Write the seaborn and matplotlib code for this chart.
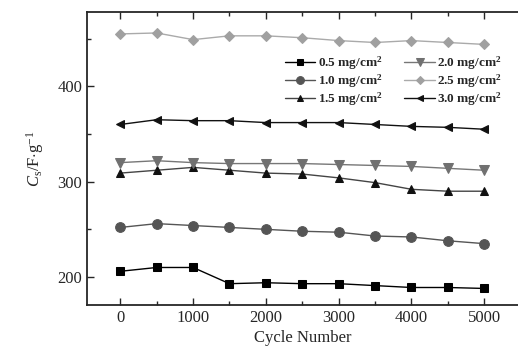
import matplotlib
matplotlib.use("Agg")
import matplotlib.pyplot as plt
import seaborn as sns
import pandas as pd
from matplotlib.ticker import MultipleLocator

cycles = [0, 500, 1000, 1500, 2000, 2500, 3000, 3500, 4000, 4500, 5000]
labels = ["0.5 mg/cm$^\\mathregular{2}$", "1.0 mg/cm$^\\mathregular{2}$", "1.5 mg/cm$^\\mathregular{2}$",
          "2.0 mg/cm$^\\mathregular{2}$", "2.5 mg/cm$^\\mathregular{2}$", "3.0 mg/cm$^\\mathregular{2}$"]
s05 = [206, 210, 210, 193, 194, 193, 193, 191, 189, 189, 188]
s10 = [252, 256, 254, 252, 250, 248, 247, 243, 242, 238, 235]
s15 = [309, 312, 315, 312, 309, 308, 304, 299, 292, 290, 290]
s20 = [320, 322, 320, 319, 319, 319, 318, 317, 316, 314, 312]
s25 = [455, 456, 449, 453, 453, 451, 448, 446, 448, 446, 444]
s30 = [360, 365, 364, 364, 362, 362, 362, 360, 358, 357, 355]

series = [s05, s10, s15, s20, s25, s30]
rows = []
for lab, vals in zip(labels, series):
    for c, v in zip(cycles, vals):
        rows.append({"cycle": c, "cap": v, "load": lab})
df = pd.DataFrame(rows)

sns.set_style("ticks")
plt.rcParams["font.family"] = ["Liberation Serif", "DejaVu Serif"]
plt.rcParams["mathtext.fontset"] = "custom"
plt.rcParams["mathtext.rm"] = "Liberation Serif"
plt.rcParams["mathtext.it"] = "Liberation Serif:italic"
plt.rcParams["mathtext.bf"] = "Liberation Serif:bold"

fig = plt.figure(figsize=(5.18, 3.58), dpi=100)
ax = fig.add_axes([0.168, 0.149, 0.832, 0.8175])

line_colors = ["#000000", "#555555", "#444444", "#777777", "#aaaaaa", "#111111"]
marker_colors = ["#000000", "#555555", "#111111", "#707070", "#a0a0a0", "#111111"]
markers = ["s", "o", "^", "v", "D", "<"]
sizes = [6, 7, 6, 7, 5, 6]

for lab, lc, mc, mk, ms in zip(labels, line_colors, marker_colors, markers, sizes):
    sub = df[df["load"] == lab]
    sns.lineplot(data=sub, x="cycle", y="cap", ax=ax, color=lc, lw=1.0,
                 marker=mk, markersize=ms, markerfacecolor=mc, markeredgecolor=mc,
                 label=lab)

ax.set_xlim(-457, 5463)
ax.set_ylim(171, 478)
ax.xaxis.set_major_locator(MultipleLocator(1000))
ax.xaxis.set_minor_locator(MultipleLocator(500))
ax.yaxis.set_major_locator(MultipleLocator(100))
ax.yaxis.set_minor_locator(MultipleLocator(50))
ax.tick_params(which="both", direction="in", top=True, right=False, labelsize=12, width=1.0)
ax.tick_params(which="major", length=5)
ax.tick_params(which="minor", length=3)
for sp in ["left", "bottom", "top"]:
    ax.spines[sp].set_linewidth(1.3)
ax.spines["right"].set_visible(False)

ax.set_xlabel("Cycle Number", fontsize=12, labelpad=3)
ax.set_ylabel("$\\mathit{C}_\\mathregular{s}$/F$\\cdot$g$^\\mathregular{-1}$", fontsize=12, labelpad=8)

leg = ax.legend(ncol=2, frameon=False, loc="upper left", bbox_to_anchor=(0.446, 0.872),
                prop={"weight": "bold", "size": 9.5}, handlelength=2.3, columnspacing=1.7,
                labelspacing=0.02, handletextpad=0.2, borderaxespad=0, markerscale=0.8)

fig.savefig("out.png", dpi=100)
